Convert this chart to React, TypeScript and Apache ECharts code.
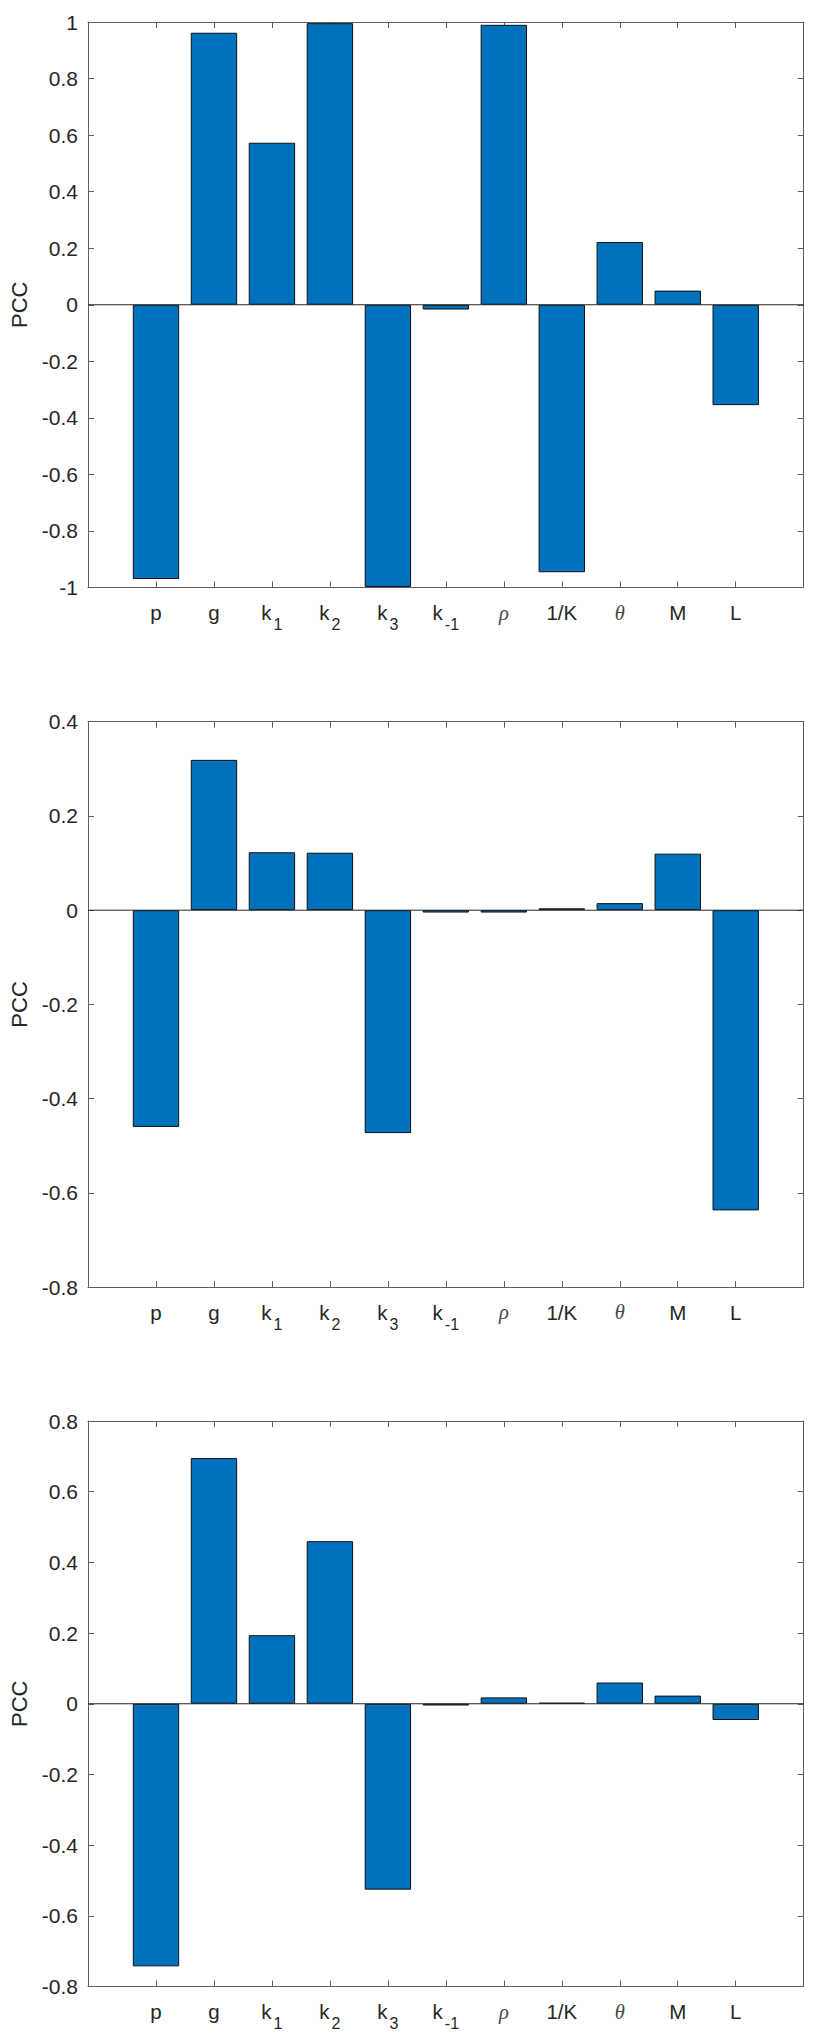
import React, { useEffect, useRef } from "react";
import * as echarts from "echarts";

// ---- data ----
const categories = ["p", "g", "k_1", "k_2", "k_3", "k_-1", "ρ", "1/K", "θ", "M", "L"];

const pccPanel1 = [-0.97, 0.962, 0.573, 0.996, -0.998, -0.017, 0.99, -0.946, 0.222, 0.05, -0.355];
const pccPanel2 = [-0.46, 0.319, 0.123, 0.122, -0.473, -0.005, -0.005, 0.004, 0.015, 0.12, -0.637];
const pccPanel3 = [-0.743, 0.695, 0.194, 0.46, -0.526, -0.005, 0.018, 0.003, 0.06, 0.023, -0.046];

const yMins = [-1, -0.8, -0.8];
const yMaxs = [1, 0.4, 0.8];
const yTickStep = 0.2;
const yAxisTitle = "PCC";

// ---- layout / style ----
const W = 814;
const H = 2040;
const PANEL_TOPS = [22, 721.7, 1421];
const PANEL_H = 565.5;
const FRAME_LEFT = 87.3;
const FRAME_RIGHT = 803.7;
const INNER_LEFT = 127;
const INNER_W = 637.7;

const AXIS_COLOR = "#5e5e5e";
const TEXT_COLOR = "#262626";
const BAR_COLOR = "#0072BD";
const FONT = "'Liberation Sans', Arial, Helvetica, sans-serif";

function formatLabel(v: string): string {
  if (v === "ρ" || v === "θ") return `{g|${v}}`;
  const idx = v.indexOf("_");
  if (idx >= 0) return `{m|${v.slice(0, idx)}}{s|${v.slice(idx + 1)}}`;
  return `{m|${v}}`;
}

const rich = {
  m: { fontSize: 20.5, lineHeight: 40, fontFamily: FONT, color: TEXT_COLOR },
  s: { fontSize: 16, lineHeight: 16, fontFamily: FONT, color: TEXT_COLOR, padding: [24, 0, 0, 2] },
  g: {
    fontSize: 20.5,
    lineHeight: 40,
    fontFamily: "'Liberation Serif', 'DejaVu Serif', serif",
    fontStyle: "italic",
    color: "#444",
  },
};

export default function App() {
  const ref = useRef<HTMLDivElement>(null);

  useEffect(() => {
    document.body.style.margin = "0";
    if (!ref.current) return;
    const chart = echarts.init(ref.current, null, { renderer: "svg" });

    const panelValues = [pccPanel1, pccPanel2, pccPanel3];
    const grid: any[] = [];
    const xAxis: any[] = [];
    const yAxis: any[] = [];
    const series: any[] = [];
    const lineStyle = { color: AXIS_COLOR, width: 1 };

    panelValues.forEach((vals, i) => {
      const top = PANEL_TOPS[i];
      grid.push({ left: FRAME_LEFT, top, width: FRAME_RIGHT - FRAME_LEFT, height: PANEL_H });
      grid.push({ left: INNER_LEFT, top, width: INNER_W, height: PANEL_H });
      const gOuter = 2 * i;
      const gInner = 2 * i + 1;

      const frameX = (position: string) => ({
        type: "value",
        gridIndex: gOuter,
        position,
        min: 0,
        max: 1,
        axisLine: { show: true, onZero: false, lineStyle },
        axisTick: { show: false },
        axisLabel: { show: false },
        splitLine: { show: false },
      });
      xAxis.push(frameX("bottom"), frameX("top"));
      xAxis.push({
        type: "category",
        gridIndex: gInner,
        position: "bottom",
        data: categories,
        axisLine: { show: false, onZero: false },
        axisTick: { show: true, inside: true, alignWithLabel: true, length: 6, interval: 0, lineStyle },
        axisLabel: { interval: 0, margin: 5, formatter: formatLabel, rich },
        splitLine: { show: false },
      });
      xAxis.push({
        type: "category",
        gridIndex: gInner,
        position: "top",
        data: categories,
        axisLine: { show: false, onZero: false },
        axisTick: { show: true, inside: true, alignWithLabel: true, length: 6, interval: 0, lineStyle },
        axisLabel: { show: false },
        splitLine: { show: false },
      });

      yAxis.push({
        type: "value",
        gridIndex: gOuter,
        position: "left",
        min: yMins[i],
        max: yMaxs[i],
        interval: yTickStep,
        name: yAxisTitle,
        nameLocation: "middle",
        nameGap: 58,
        nameRotate: 90,
        nameTextStyle: { fontSize: 22, fontFamily: FONT, color: TEXT_COLOR },
        axisLine: { show: true, onZero: false, lineStyle },
        axisTick: { show: true, inside: true, length: 6, lineStyle },
        axisLabel: { fontSize: 21, margin: 10, color: TEXT_COLOR, fontFamily: FONT },
        splitLine: { show: false },
      });
      yAxis.push({
        type: "value",
        gridIndex: gOuter,
        position: "right",
        min: yMins[i],
        max: yMaxs[i],
        interval: yTickStep,
        axisLine: { show: true, onZero: false, lineStyle },
        axisTick: { show: true, inside: true, length: 6, lineStyle },
        axisLabel: { show: false },
        splitLine: { show: false },
      });
      yAxis.push({
        type: "value",
        gridIndex: gInner,
        min: yMins[i],
        max: yMaxs[i],
        interval: yTickStep,
        show: false,
      });

      series.push({
        type: "bar",
        xAxisIndex: 4 * i + 2,
        yAxisIndex: 3 * i + 2,
        data: vals,
        barWidth: "80%",
        itemStyle: { color: BAR_COLOR, borderColor: "#111", borderWidth: 1 },
        silent: true,
      });
      series.push({
        type: "line",
        xAxisIndex: 4 * i,
        yAxisIndex: 3 * i,
        data: [
          [0, 0],
          [1, 0],
        ],
        symbol: "none",
        lineStyle: { color: "#262626", width: 1 },
        silent: true,
        z: 3,
      });
    });

    chart.setOption({
      animation: false,
      backgroundColor: "#ffffff",
      grid,
      xAxis,
      yAxis,
      series,
    });

    return () => chart.dispose();
  }, []);

  return <div ref={ref} style={{ width: W, height: H }} />;
}
